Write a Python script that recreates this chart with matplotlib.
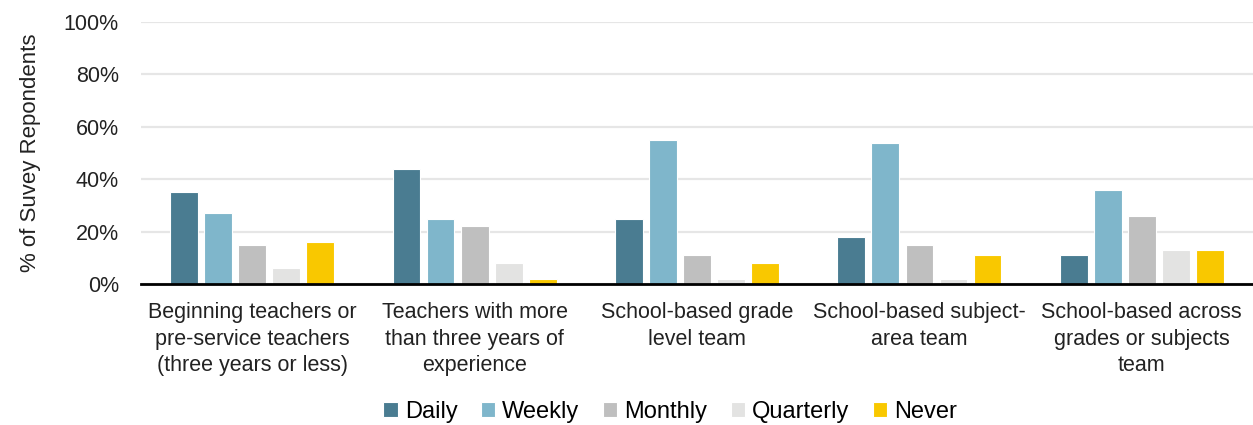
import matplotlib.pyplot as plt
import numpy as np
from matplotlib.ticker import FuncFormatter

plt.rcParams['font.family'] = ['Liberation Sans', 'DejaVu Sans']

categories = ["Beginning teachers or\npre-service teachers\n(three years or less)",
              "Teachers with more\nthan three years of\nexperience",
              "School-based grade\nlevel team",
              "School-based subject-\narea team",
              "School-based across\ngrades or subjects\nteam"]
series = ["Daily", "Weekly", "Monthly", "Quarterly", "Never"]
daily = [35, 44, 25, 18, 11]
weekly = [27, 25, 55, 54, 36]
monthly = [15, 22, 11, 15, 26]
quarterly = [6, 8, 2, 2, 13]
never = [16, 2, 8, 11, 13]
colors = ["#4A7C91", "#7FB6CB", "#BFBFBF", "#E3E3E2", "#F9C800"]

values = [daily, weekly, monthly, quarterly, never]

fig = plt.figure(figsize=(12.53, 4.25), dpi=100)
ax = fig.add_axes([141/1253, 1-284/425, (1253-141)/1253, (284-22)/425])

x = np.arange(len(categories))
step = 0.153
w = 0.125
for i, (name, vals, c) in enumerate(zip(series, values, colors)):
    ax.bar(x + (i - 2) * step, vals, width=w, color=c, label=name,
           edgecolor='white', linewidth=0.8, zorder=3)

ax.set_xlim(-0.5, len(categories) - 0.5)
ax.set_ylim(0, 100)
ax.set_yticks([0, 20, 40, 60, 80, 100])
ax.yaxis.set_major_formatter(FuncFormatter(lambda v, p: f"{int(v)}%"))
ax.grid(axis='y', color='#E6E6E6', linewidth=1.6, zorder=0)
ax.set_axisbelow(True)
for s in ['top', 'right', 'left']:
    ax.spines[s].set_visible(False)
ax.spines['bottom'].set_linewidth(2)
ax.spines['bottom'].set_color('black')
ax.spines['bottom'].set_zorder(5)
ax.tick_params(axis='both', length=0, labelsize=15.5, colors='#222222')
ax.tick_params(axis='x', pad=13)
ax.tick_params(axis='y', pad=16)
ax.set_xticks(x)
ax.set_xticklabels(categories, linespacing=1.35)
ax.set_ylabel("% of Suvey Repondents", fontsize=16, color='#222222', labelpad=16)

fig.legend(loc='center', bbox_to_anchor=(0.535, 1 - 412/425), ncol=5, frameon=False,
           fontsize=17, handlelength=0.6, handleheight=0.6, handletextpad=0.3,
           columnspacing=1.0)

fig.savefig("out.png", dpi=100)
